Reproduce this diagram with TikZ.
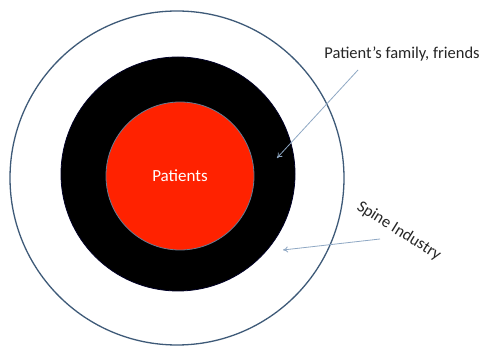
\documentclass[tikz,border=0pt]{standalone}
\usepackage{fontspec}
\setmainfont{Carlito}
\usetikzlibrary{arrows.meta}
\definecolor{ringline}{HTML}{3E5A78}
\definecolor{arrowc}{HTML}{8FA8C4}
\definecolor{patred}{HTML}{FF2200}
\begin{document}
\begin{tikzpicture}[x=1pt,y=-1pt,
  ring/.style={circle,inner sep=0pt,minimum size=#1},
  pointer/.style={draw=arrowc,line width=0.8pt,-{To[length=5pt,width=6pt]}},
  lbl/.style={font=\fontsize{16.5}{18}\selectfont,text=black!85,inner sep=0pt}]
\useasboundingbox[fill=white] (0,0) rectangle (482,347);
\node[ring=334pt,draw=ringline,line width=1.3pt] (outer) at (177,178) {};
\node[ring=234pt,fill=black,draw=black!85!blue,line width=0.8pt] (family) at (178,174) {};
\node[ring=148pt,fill=patred,draw=ringline!80,line width=0.8pt,text=white,font=\fontsize{17}{19}\selectfont] (patients) at (180,176) {Patients};
\node[lbl] (famlbl) at (402,54) {Patient’s family, friends};
\node[lbl,rotate=-32] (spinelbl) at (399,231) {Spine Industry};
\coordinate (famtip) at (277,158);
\coordinate (famstart) at (358,70);
\coordinate (spinetip) at (283,250);
\coordinate (spinestart) at (380,239);
\draw[pointer] (famstart) -- (famtip);
\draw[pointer] (spinestart) -- (spinetip);
\end{tikzpicture}
\end{document}
